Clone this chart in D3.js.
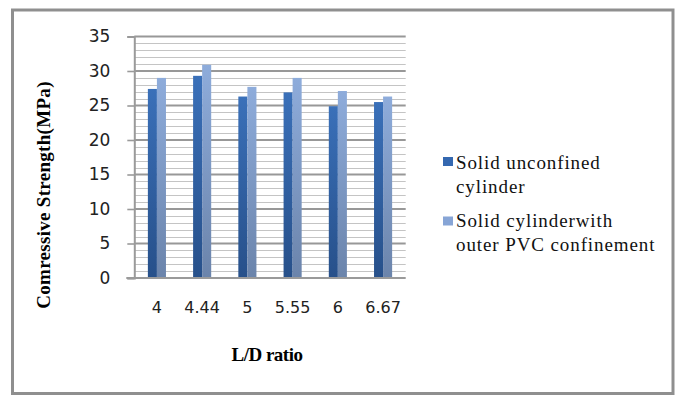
<!DOCTYPE html>
<html>
<head>
<meta charset="utf-8">
<script src="https://cdn.jsdelivr.net/npm/d3@7"></script>
<style>
  html, body { margin: 0; padding: 0; background: #fff; }
  svg { display: block; }
  .serif { font-family: "Liberation Serif", "Times New Roman", serif; }
  .sans { font-family: "DejaVu Sans", sans-serif; }
</style>
</head>
<body>
<svg id="chart" width="676" height="395"></svg>
<script>
// L/D ratios on the category axis
const categories = ["4", "4.44", "5", "5.55", "6", "6.67"];
// Compressive strength (MPa) for each specimen type
const unconfined = [27.4, 29.3, 26.3, 26.9, 24.9, 25.5];
const pvcConfined = [29.0, 30.9, 27.7, 29.0, 27.1, 26.3];
const seriesNames = [
  ["Solid unconfined", "cylinder"],
  ["Solid cylinderwith", "outer PVC confinement"]
];
const yTicks = [0, 5, 10, 15, 20, 25, 30, 35];
const yMinorTicks = d3.range(0, 36, 1);

const svg = d3.select("#chart");

// Outer frame
svg.append("rect")
  .attr("x", 12.5).attr("y", 10)
  .attr("width", 660.5).attr("height", 383.5)
  .attr("fill", "#fff")
  .attr("stroke", "#8f8f8f")
  .attr("stroke-width", 3);

const plot = { left: 134.3, right: 405.7, top: 36.5, bottom: 278 };

const x = d3.scaleBand()
  .domain(categories)
  .range([plot.left, plot.right])
  .paddingInner(0.6)
  .paddingOuter(0.3);

const xSub = d3.scaleBand()
  .domain([0, 1])
  .range([0, x.bandwidth()]);

const y = d3.scaleLinear()
  .domain([0, 35])
  .range([plot.bottom, plot.top]);

// Gradients for the bars
const defs = svg.append("defs");
const grads = [
  { id: "gDark", top: "#3a70b9", bottom: "#27508a" },
  { id: "gLight", top: "#8eacdb", bottom: "#6b84ab" }
];
grads.forEach(g => {
  const lg = defs.append("linearGradient")
    .attr("id", g.id)
    .attr("x1", 0).attr("y1", 0).attr("x2", 0).attr("y2", 1);
  lg.append("stop").attr("offset", "0%").attr("stop-color", g.top);
  lg.append("stop").attr("offset", "100%").attr("stop-color", g.bottom);
});

// Minor gridlines
svg.append("g")
  .selectAll("line")
  .data(yMinorTicks.filter(v => v % 5 !== 0))
  .join("line")
  .attr("x1", plot.left).attr("x2", plot.right)
  .attr("y1", d => Math.round(y(d)) + 0.5)
  .attr("y2", d => Math.round(y(d)) + 0.5)
  .attr("stroke", "#c4c4c4")
  .attr("stroke-width", 1);

// Major gridlines
svg.append("g")
  .selectAll("line")
  .data(yTicks.filter(v => v > 0))
  .join("line")
  .attr("x1", plot.left).attr("x2", plot.right)
  .attr("y1", d => y(d))
  .attr("y2", d => y(d))
  .attr("stroke", "#989898")
  .attr("stroke-width", 1.8);

// Y axis with tick labels
const yAxis = svg.append("g")
  .attr("transform", `translate(${plot.left},0)`)
  .call(d3.axisLeft(y).tickValues(yTicks).tickSize(7).tickPadding(17));
yAxis.select(".domain").attr("stroke", "#9a9a9a").attr("stroke-width", 2);
yAxis.selectAll(".tick line").attr("stroke", "#9a9a9a").attr("stroke-width", 1.6);
yAxis.selectAll(".tick text")
  .attr("class", "sans")
  .attr("font-size", 17)
  .attr("fill", "#222");

// Bars
const series = [unconfined, pvcConfined];
const fills = ["url(#gDark)", "url(#gLight)"];
series.forEach((vals, si) => {
  svg.append("g")
    .selectAll("rect")
    .data(vals)
    .join("rect")
    .attr("x", (d, i) => x(categories[i]) + xSub(si))
    .attr("y", d => y(d))
    .attr("width", xSub.bandwidth())
    .attr("height", d => y(0) - y(d))
    .attr("fill", fills[si]);
});

// X axis baseline and category labels
const xAxis = svg.append("g")
  .attr("transform", `translate(0,${plot.bottom})`)
  .call(d3.axisBottom(x).tickSize(0).tickPadding(24));
xAxis.select(".domain").remove();
xAxis.append("line")
  .attr("x1", plot.left - 8).attr("x2", plot.right)
  .attr("y1", 0).attr("y2", 0)
  .attr("stroke", "#9a9a9a").attr("stroke-width", 2);
xAxis.selectAll(".tick text")
  .attr("class", "sans")
  .attr("font-size", 16)
  .attr("fill", "#222");

// Axis titles
svg.append("text")
  .attr("class", "serif")
  .attr("x", 267).attr("y", 361)
  .attr("text-anchor", "middle")
  .attr("font-weight", "bold")
  .attr("font-size", 19)
  .attr("letter-spacing", -0.5)
  .text("L/D ratio");

svg.append("text")
  .attr("class", "serif")
  .attr("transform", "translate(50,195) rotate(-90)")
  .attr("text-anchor", "middle")
  .attr("font-weight", "bold")
  .attr("font-size", 19)
  .attr("letter-spacing", 0.3)
  .text("Comressive Strength(MPa)");

// Legend
const legendColors = ["#3468b0", "#87a5d6"];
const legendRows = [
  { sq: 157, base: 169 },
  { sq: 216.5, base: 227 }
];
const legend = svg.append("g");
seriesNames.forEach((lines, i) => {
  legend.append("rect")
    .attr("x", 443).attr("y", legendRows[i].sq)
    .attr("width", 10).attr("height", 9)
    .attr("fill", legendColors[i]);
  const t = legend.append("text")
    .attr("class", "serif")
    .attr("font-size", 19)
    .attr("letter-spacing", 0.9)
    .attr("fill", "#111");
  lines.forEach((ln, j) => {
    t.append("tspan")
      .attr("x", 456)
      .attr("y", legendRows[i].base + j * 23.5)
      .text(ln);
  });
});
</script>
</body>
</html>
